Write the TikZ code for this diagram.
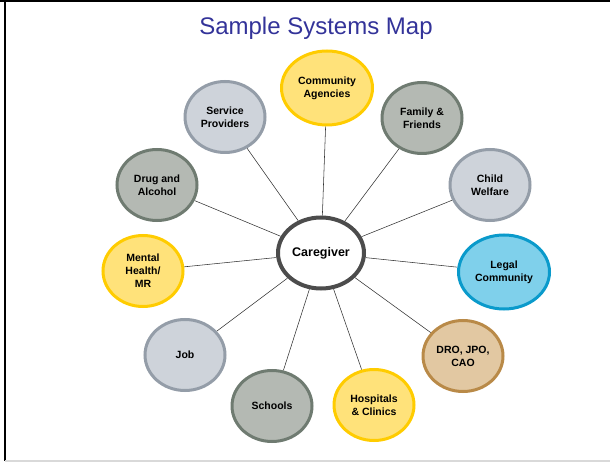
\documentclass[tikz,border=0pt]{standalone}
\usepackage{fontspec}
\setmainfont{Liberation Sans}
\usetikzlibrary{shapes.geometric}
\usetikzlibrary{backgrounds}
\definecolor{titleblue}{RGB}{51,51,153}
\definecolor{gbfill}{RGB}{206,211,218}
\definecolor{gbdraw}{RGB}{148,157,168}
\definecolor{sgfill}{RGB}{180,185,179}
\definecolor{sgdraw}{RGB}{111,123,113}
\definecolor{yfill}{RGB}{255,226,122}
\definecolor{ydraw}{RGB}{255,204,0}
\definecolor{bfill}{RGB}{127,208,235}
\definecolor{bdraw}{RGB}{10,154,203}
\definecolor{tfill}{RGB}{226,200,162}
\definecolor{tdraw}{RGB}{185,138,72}

\tikzset{
  sysnode/.style={ellipse, line width=3pt, inner sep=0pt, align=center,
    minimum width=80pt, minimum height=71pt,
    font=\fontsize{10.5}{13}\selectfont\bfseries},
  bignode/.style={sysnode, minimum width=91pt, minimum height=74pt},
  greyblue/.style={sysnode, draw=gbdraw, fill=gbfill},
  slate/.style={sysnode, draw=sgdraw, fill=sgfill},
  sunny/.style={sysnode, draw=ydraw, fill=yfill},
  link/.style={draw=black!80, line width=0.55pt}
}

\begin{document}
\begin{tikzpicture}[x=1pt, y=-1pt]
\useasboundingbox (0,0) rectangle (610,462);

% frame
\draw[line width=2.5pt] (0,1) -- (610,1);
\draw[line width=2.5pt] (5,0) -- (5,461);
\draw[black!15, line width=1.5pt] (5,461) -- (610,461);

\node[text=titleblue, font=\fontsize{24}{28}\selectfont] (title) at (316,28) {Sample Systems Map};

% centre
\node[ellipse, draw=black!70, fill=white, line width=4pt, minimum width=86pt,
  minimum height=71pt, inner sep=0pt, font=\fontsize{12.5}{14}\selectfont\bfseries]
  (care) at (321,253) {Caregiver};

% ring of systems
\node[sunny, bignode]  (agencies)  at (327,88)  {Community\\Agencies};
\node[slate]           (family)    at (422,118) {Family \&\\Friends};
\node[greyblue]        (welfare)   at (490,185) {Child\\Welfare};
\node[sysnode, bignode, draw=bdraw, fill=bfill] (legal) at (504,272) {Legal\\Community};
\node[sysnode, draw=tdraw, fill=tfill] (dro) at (463,356) {DRO, JPO,\\CAO};
\node[sunny]           (hospitals) at (374,405) {Hospitals\\\& Clinics};
\node[slate]           (schools)   at (272,406) {Schools};
\node[greyblue]        (job)       at (185,355) {Job};
\node[sunny]           (mental)    at (143,271) {Mental\\Health/\\MR};
\node[slate]           (drug)      at (157,185) {Drug and\\Alcohol};
\node[greyblue]        (service)   at (225,117) {Service\\Providers};

\begin{scope}[on background layer]
  \foreach \n in {agencies,family,welfare,legal,dro,hospitals,schools,job,mental,drug,service}
    \draw[link] (care) -- (\n);
\end{scope}

\end{tikzpicture}
\end{document}
